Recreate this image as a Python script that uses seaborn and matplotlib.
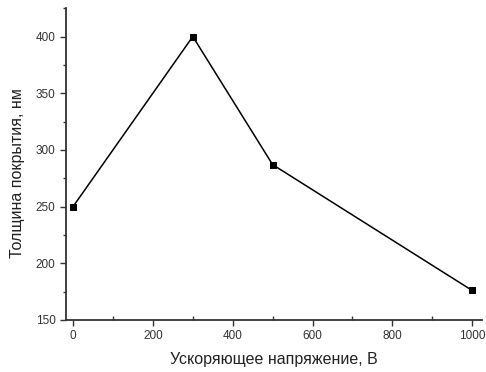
import matplotlib
matplotlib.use("Agg")
import matplotlib.pyplot as plt
import seaborn as sns
import pandas as pd
from matplotlib.ticker import MultipleLocator

voltage = [0, 300, 500, 1000]
thickness = [250, 400, 287, 176]
x_label = "Ускоряющее напряжение, В"
y_label = "Толщина покрытия, нм"

sns.set_style("ticks")
plt.rcParams['font.family'] = ['Liberation Sans', 'DejaVu Sans']

df = pd.DataFrame({"x": voltage, "y": thickness})
fig = plt.figure(figsize=(4.86, 3.72), dpi=100)
ax = fig.add_axes([0.136, 0.140, 0.856, 0.838])
sns.lineplot(data=df, x="x", y="y", ax=ax, color="black", marker="s",
             markersize=3.8, markeredgecolor="black", linewidth=1.1)
ax.set_xlim(-17.5, 1025)
ax.set_ylim(150, 425)
ax.set_xticks([0, 200, 400, 600, 800, 1000])
ax.set_yticks([150, 200, 250, 300, 350, 400])
ax.xaxis.set_minor_locator(MultipleLocator(100))
ax.yaxis.set_minor_locator(MultipleLocator(25))
ax.tick_params(which="major", length=4, width=1, labelsize=8.5, colors="#333333", labelcolor="#333333")
ax.tick_params(which="minor", length=2.5, width=1, colors="#333333")
ax.tick_params(axis="x", which="minor", direction="in", length=3)
for s in ["top", "right"]:
    ax.spines[s].set_visible(False)
for s in ["left", "bottom"]:
    ax.spines[s].set_linewidth(1.3)
    ax.spines[s].set_color("#333333")
ax.set_xlabel(x_label, fontsize=11.5, color="#222222", labelpad=7)
ax.set_ylabel(y_label, fontsize=11.5, color="#222222")
ax.yaxis.set_label_coords(-0.098, 0.471)
fig.savefig("out.png", dpi=100)
